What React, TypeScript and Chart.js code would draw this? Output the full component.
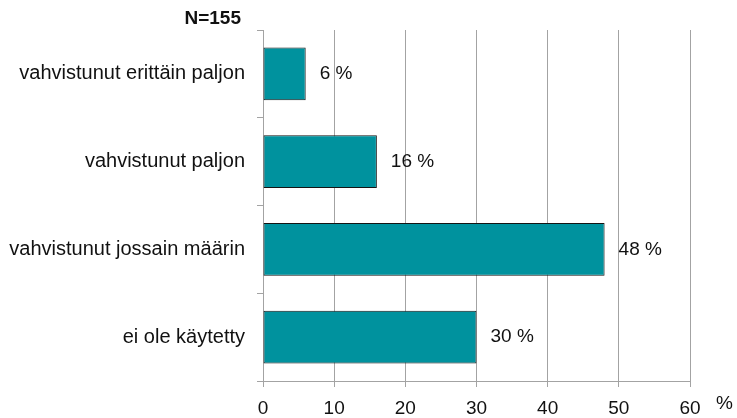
import React, { useEffect, useRef } from "react";
import { Chart, registerables } from "chart.js";

Chart.register(...registerables);

const categories = [
  "vahvistunut erittäin paljon",
  "vahvistunut paljon",
  "vahvistunut jossain määrin",
  "ei ole käytetty",
];
const values = [6, 16, 48, 30];
const xTicks = [0, 10, 20, 30, 40, 50, 60];
const sampleLabel = "N=155";
const unitLabel = "%";

const FONT = "'Liberation Sans', Arial, Helvetica, sans-serif";
const GRID = "#a3a3a3";

const overlayPlugin = {
  id: "overlay",
  afterDatasetsDraw(chart: any) {
    const ctx = chart.ctx;
    const meta = chart.getDatasetMeta(0);
    ctx.save();
    ctx.fillStyle = "#111";
    ctx.font = `19px ${FONT}`;
    ctx.textAlign = "left";
    ctx.textBaseline = "middle";
    meta.data.forEach((bar: any, i: number) => {
      ctx.fillText(`${values[i]} %`, bar.x + 14, bar.y);
    });
    const area = chart.chartArea;
    ctx.font = `bold 19px ${FONT}`;
    ctx.textAlign = "right";
    ctx.fillText(sampleLabel, area.left - 22, area.top - 11);
    ctx.font = `19px ${FONT}`;
    ctx.textAlign = "left";
    ctx.fillText(unitLabel, area.right + 26, area.bottom + 23);
    ctx.restore();
  },
};

export default function App() {
  const ref = useRef<HTMLCanvasElement | null>(null);
  useEffect(() => {
    document.body.style.margin = "0";
    if (!ref.current) return;
    const chart = new Chart(ref.current, {
      type: "bar",
      data: {
        labels: categories,
        datasets: [
          {
            data: values,
            backgroundColor: "#00929e",
            borderColor: "#141414",
            borderWidth: 1,
            borderSkipped: false,
            barPercentage: 0.6,
            categoryPercentage: 1,
          },
        ],
      },
      options: {
        indexAxis: "y",
        animation: false,
        responsive: false,
        maintainAspectRatio: false,
        layout: { padding: { top: 30, right: 47, left: 0, bottom: 0 } },
        plugins: {
          legend: { display: false },
          tooltip: { enabled: false },
          title: { display: false },
        },
        scales: {
          x: {
            type: "linear",
            min: 0,
            max: 60,
            afterBuildTicks: (scale: any) => {
              scale.ticks = xTicks.map((v) => ({ value: v }));
            },
            afterFit: (scale: any) => {
              scale.height = 37;
            },
            grid: {
              color: GRID,
              lineWidth: 1,
              drawTicks: true,
              tickLength: 6,
              tickColor: GRID,
            },
            border: { display: true, color: GRID },
            ticks: {
              padding: 10,
              color: "#111",
              font: { family: FONT, size: 19 },
            },
          },
          y: {
            type: "category",
            afterFit: (scale: any) => {
              scale.width = 263;
            },
            grid: {
              drawOnChartArea: false,
              drawTicks: true,
              tickLength: 6,
              tickColor: GRID,
              offset: true,
            },
            border: { display: true, color: GRID },
            ticks: {
              padding: 12,
              color: "#111",
              font: { family: FONT, size: 20 },
            },
          },
        },
      },
      plugins: [overlayPlugin],
    });
    return () => chart.destroy();
  }, []);
  return (
    <div style={{ width: 737, height: 418 }}>
      <canvas ref={ref} width={737} height={418} style={{ display: "block" }} />
    </div>
  );
}
